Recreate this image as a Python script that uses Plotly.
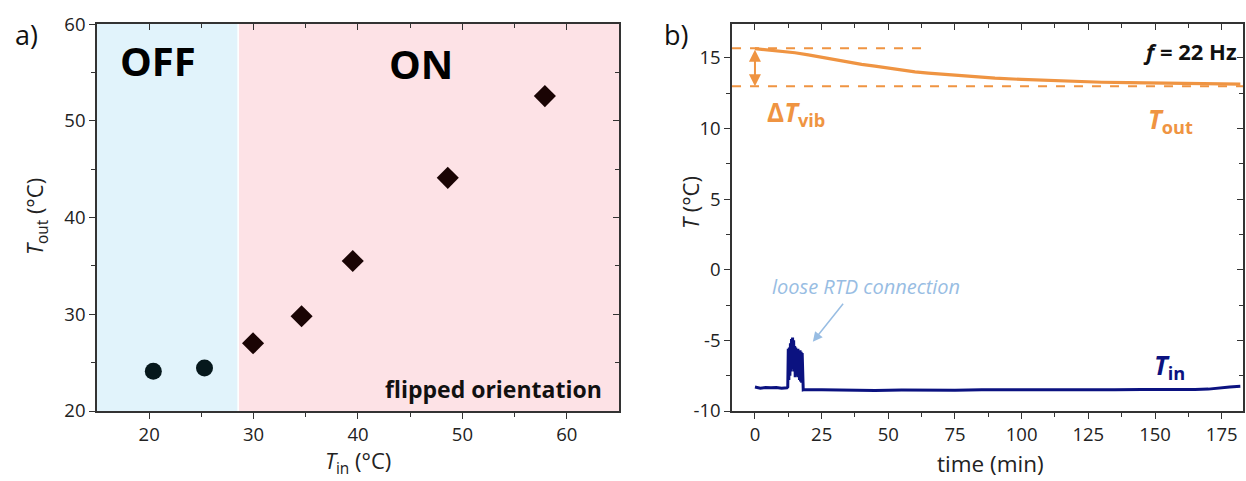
import plotly.graph_objects as go

# ---------------- data: panel a ----------------
off_tin = [20.4, 25.3]
off_tout = [24.1, 24.45]
on_tin = [29.95, 34.6, 39.5, 48.6, 57.9]
on_tout = [27.0, 29.8, 35.5, 44.1, 52.55]

# ---------------- data: panel b ----------------
tout_time = [0, 5, 10, 15, 20, 25, 30, 35, 40, 45, 50, 55, 60, 65, 70, 75, 80, 85, 90,
             100, 110, 115, 120, 130, 140, 150, 160, 170, 182]
tout_val = [15.66, 15.57, 15.47, 15.37, 15.22, 15.05, 14.88, 14.70, 14.55, 14.42, 14.27,
            14.12, 14.02, 13.93, 13.85, 13.77, 13.70, 13.63, 13.57, 13.48, 13.40, 13.36,
            13.32, 13.28, 13.25, 13.22, 13.19, 13.17, 13.15]

tin_time = [0, 2, 4, 6, 8, 10, 12, 12.3, 12.5, 12.7, 12.9, 13.1, 13.3, 13.5, 13.7, 13.9,
            14.1, 14.3, 14.5, 14.7, 14.9, 15.1, 15.3, 15.5, 15.7, 15.9, 16.1, 16.3, 16.5,
            16.7, 16.9, 17.1, 17.3, 17.5, 17.7, 17.9, 18.1, 18.5, 25, 35, 45, 55, 65, 75,
            85, 95, 105, 115, 125, 135, 145, 155, 165, 170, 174, 178, 182]
tin_val = [-8.30, -8.38, -8.33, -8.36, -8.33, -8.38, -8.36, -8.30, -5.6, -7.8, -5.5, -7.5,
           -5.2, -7.2, -4.9, -7.0, -4.8, -7.0, -5.0, -7.2, -5.4, -7.6, -5.5, -7.5, -5.7,
           -7.4, -5.6, -7.6, -5.8, -7.8, -5.7, -7.9, -5.8, -8.0, -5.9, -8.3, -8.5, -8.48,
           -8.50, -8.52, -8.55, -8.52, -8.55, -8.53, -8.50, -8.52, -8.50, -8.50, -8.52,
           -8.50, -8.48, -8.50, -8.47, -8.45, -8.35, -8.30, -8.25]

dt_top = 15.68
dt_bottom = 13.0

ORANGE = "#EF9442"
NAVY = "#0B1280"
LBLUE = "#98BDE3"
FONT = "Open Sans"
TICKC = "#222222"

fig = go.Figure()

# panel a
fig.add_trace(go.Scatter(x=off_tin, y=off_tout, mode="markers",
                         marker=dict(symbol="circle", size=17, color="#06181C"),
                         xaxis="x", yaxis="y", showlegend=False))
fig.add_trace(go.Scatter(x=on_tin, y=on_tout, mode="markers",
                         marker=dict(symbol="diamond", size=17, color="#1A0404"),
                         xaxis="x", yaxis="y", showlegend=False))
# panel b
fig.add_trace(go.Scatter(x=tout_time, y=tout_val, mode="lines",
                         line=dict(color=ORANGE, width=3.2),
                         xaxis="x2", yaxis="y2", showlegend=False))
fig.add_trace(go.Scatter(x=tin_time, y=tin_val, mode="lines",
                         line=dict(color=NAVY, width=3),
                         xaxis="x2", yaxis="y2", showlegend=False))
# dummy traces for mirrored inward ticks
fig.add_trace(go.Scatter(x=[None], y=[None], xaxis="x3", yaxis="y3", showlegend=False))
fig.add_trace(go.Scatter(x=[None], y=[None], xaxis="x4", yaxis="y4", showlegend=False))

XA = [15, 65]
YA = [20, 60]
XB = [-8.6, 183]
YB = [-10, 17.4]
DY = [0.1455, 0.95]
DXA = [0.0778, 0.4968]
DXB = [0.5875, 0.9976]

tickfont = dict(family=FONT, size=18.5, color=TICKC)
common = dict(showgrid=False, zeroline=False, linecolor="#333333", linewidth=1.5,
              tickcolor="#333333", tickwidth=1.3, tickfont=tickfont, automargin=False)

fig.update_layout(
    width=1246, height=481, autosize=False,
    margin=dict(l=0, r=0, t=0, b=0, pad=0, autoexpand=False),
    paper_bgcolor="white", plot_bgcolor="rgba(0,0,0,0)",
    font=dict(family=FONT, color=TICKC),
    xaxis=dict(domain=DXA, range=XA, anchor="y", tickvals=[20, 30, 40, 50, 60],
               ticks="outside", ticklen=6, mirror=True, showline=True,
               minor=dict(tickvals=[25, 35, 45, 55], ticks="outside", ticklen=4,
                          tickcolor="#333333"), **common),
    yaxis=dict(domain=DY, range=YA, anchor="x", tickvals=[20, 30, 40, 50, 60],
               ticks="outside", ticklen=6, mirror=True, showline=True,
               minor=dict(tickvals=[25, 35, 45, 55], ticks="outside", ticklen=4,
                          tickcolor="#333333"), **common),
    xaxis3=dict(overlaying="x", side="top", anchor="y3", range=XA, showticklabels=False,
                tickvals=[20, 30, 40, 50, 60], ticks="inside", ticklen=6, showline=False,
                minor=dict(tickvals=[25, 35, 45, 55], ticks="inside", ticklen=4,
                           tickcolor="#333333"), **common),
    yaxis3=dict(overlaying="y", side="right", anchor="x3", range=YA, showticklabels=False,
                tickvals=[20, 30, 40, 50, 60], ticks="inside", ticklen=6, showline=False,
                minor=dict(tickvals=[25, 35, 45, 55], ticks="inside", ticklen=4,
                           tickcolor="#333333"), **common),
    xaxis2=dict(domain=DXB, range=XB, anchor="y2", tickvals=[0, 25, 50, 75, 100, 125, 150, 175],
                ticks="outside", ticklen=6, mirror=True, showline=True,
                minor=dict(tickvals=[12.5, 37.5, 62.5, 87.5, 112.5, 137.5, 162.5],
                           ticks="outside", ticklen=4, tickcolor="#333333"), **common),
    yaxis2=dict(domain=DY, range=YB, anchor="x2", tickvals=[-10, -5, 0, 5, 10, 15],
                ticktext=["-10", "-5", "0", "5", "10", "15"],
                ticks="outside", ticklen=6, mirror=True, showline=True,
                minor=dict(tickvals=[-7.5, -2.5, 2.5, 7.5, 12.5], ticks="outside",
                           ticklen=4, tickcolor="#333333"), **common),
    xaxis4=dict(overlaying="x2", side="top", anchor="y4", range=XB, showticklabels=False,
                tickvals=[0, 25, 50, 75, 100, 125, 150, 175], ticks="inside", ticklen=6,
                showline=False,
                minor=dict(tickvals=[12.5, 37.5, 62.5, 87.5, 112.5, 137.5, 162.5],
                           ticks="inside", ticklen=4, tickcolor="#333333"), **common),
    yaxis4=dict(overlaying="y2", side="right", anchor="x4", range=YB, showticklabels=False,
                tickvals=[-10, -5, 0, 5, 10, 15], ticks="inside", ticklen=6, showline=False,
                minor=dict(tickvals=[-7.5, -2.5, 2.5, 7.5, 12.5], ticks="inside",
                           ticklen=4, tickcolor="#333333"), **common),
)

# background regions
fig.add_shape(type="rect", xref="x", yref="y", x0=15, x1=28.45, y0=20, y1=60,
              fillcolor="#E1F3FB", line_width=0, layer="below")
fig.add_shape(type="rect", xref="x", yref="y", x0=28.6, x1=65, y0=20, y1=60,
              fillcolor="#FDE2E6", line_width=0, layer="below")

# dashed lines
fig.add_shape(type="line", xref="x2", yref="y2", x0=XB[0], x1=63, y0=dt_top, y1=dt_top,
              line=dict(color=ORANGE, width=2, dash="dash"))
fig.add_shape(type="line", xref="x2", yref="y2", x0=XB[0], x1=XB[1], y0=dt_bottom, y1=dt_bottom,
              line=dict(color=ORANGE, width=2, dash="dash"))

ann = []
def A(text, x, y, size, color=TICKC, xanchor="center", yanchor="middle", angle=0, **kw):
    ann.append(dict(text=text, x=x, y=y, xref="paper", yref="paper", showarrow=False,
                    xanchor=xanchor, yanchor=yanchor, textangle=angle,
                    font=dict(family=FONT, size=size, color=color), **kw))

W, H = 1246, 481
px = lambda v: v / W
py = lambda v: 1 - v / H

A("a)", px(26), py(34), 27, color="#111")
A("b)", px(676), py(34), 27, color="#111")
A("<b>OFF</b>", px(158), py(60), 40, color="#000")
A("<b>ON</b>", px(421), py(63), 40, color="#000")
A("<b>flipped orientation</b>", px(604), py(389), 23, color="#111", xanchor="right")
A("<i>T</i><sub>out</sub> (°C)", px(36), py(217), 22, angle=-90)
A("<i>T</i><sub>in</sub> (°C)", px(358), py(462), 22)
A("time (min)", px(990), py(463), 22.5)
A("<i>T</i> (°C)", px(690), py(203), 22, angle=-90)
A("<b><i>f</i> = 22 Hz</b>", px(1239), py(51), 22, color="#111", xanchor="right")
A("<b>Δ<i>T</i><sub>vib</sub></b>", px(796), py(113), 26, color=ORANGE)
A("<b><i>T</i><sub>out</sub></b>", px(1170), py(120), 26, color=ORANGE)
A("<b><i>T</i><sub>in</sub></b>", px(1169), py(366), 26, color=NAVY)
A("<i>loose RTD connection</i>", px(866), py(286), 20, color=LBLUE)

# double-headed arrow for delta T
ann.append(dict(x=0, y=dt_bottom, ax=0, ay=dt_top, xref="x2", yref="y2", axref="x2", ayref="y2",
                showarrow=True, arrowhead=2, startarrowhead=2, arrowside="end+start",
                arrowsize=1.2, startarrowsize=1.2, arrowwidth=2, arrowcolor=ORANGE, text=""))
# loose RTD arrow
ann.append(dict(x=21.7, y=-5.1, ax=33.5, ay=-2.3, xref="x2", yref="y2", axref="x2", ayref="y2",
                showarrow=True, arrowhead=2, arrowsize=1.3, arrowwidth=1.5, arrowcolor=LBLUE,
                text=""))

fig.update_layout(annotations=ann)
fig.write_html("out.html", config={"displayModeBar": False},
               post_script="document.body.style.margin='0';document.body.style.overflow='hidden';")
